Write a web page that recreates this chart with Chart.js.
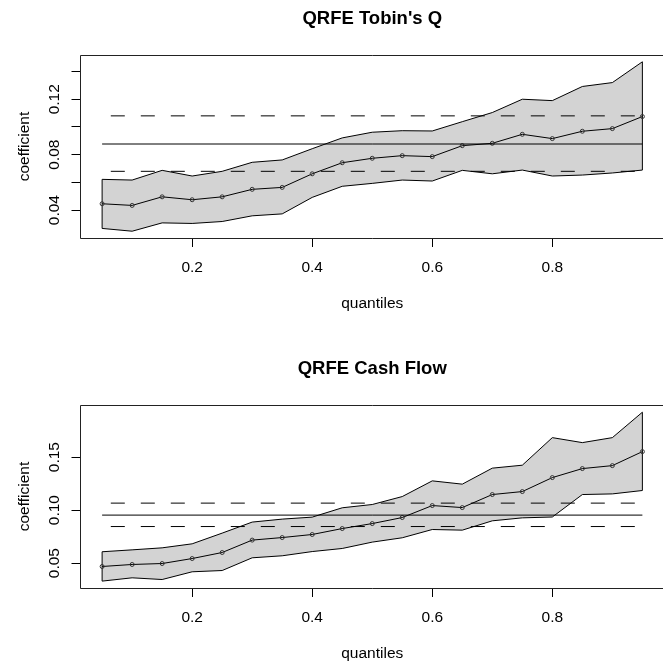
<!DOCTYPE html>
<html>
<head>
    <title>QRFE coefficients</title>
    <style>
        html, body {
            margin: 0;
            padding: 0;
            width: 663px;
            height: 663px;
            overflow: hidden;
            background: #fff;
        }
        .panel {
            position: absolute;
            left: 0;
            width: 669px;
            height: 350px;
        }
    </style>
    <script src="https://cdn.jsdelivr.net/npm/chart.js"></script>
</head>
<body>
    <div class="panel" style="top:0px;"><canvas id="tobinChart"></canvas></div>
    <div class="panel" style="top:350px;"><canvas id="cashChart"></canvas></div>

    <script>
        // quantiles used in both panels
        const quantiles = [0.05, 0.10, 0.15, 0.20, 0.25, 0.30, 0.35, 0.40, 0.45, 0.50,
                           0.55, 0.60, 0.65, 0.70, 0.75, 0.80, 0.85, 0.90, 0.95];
        const xTicks = [0.2, 0.4, 0.6, 0.8];

        // Tobin's Q
        const tobinMid   = [0.0446, 0.0434, 0.0496, 0.0475, 0.0496, 0.0550, 0.0564, 0.0662, 0.0742, 0.0774,
                            0.0793, 0.0786, 0.0865, 0.0882, 0.0947, 0.0916, 0.0969, 0.0988, 0.1075];
        const tobinUpper = [0.0622, 0.0617, 0.0687, 0.0646, 0.0680, 0.0745, 0.0762, 0.0843, 0.0921, 0.0962,
                            0.0973, 0.0971, 0.1038, 0.1104, 0.1200, 0.1190, 0.1292, 0.1320, 0.1470];
        const tobinLower = [0.0268, 0.0248, 0.0308, 0.0304, 0.0318, 0.0359, 0.0373, 0.0492, 0.0572, 0.0593,
                            0.0617, 0.0610, 0.0687, 0.0662, 0.0689, 0.0646, 0.0653, 0.0668, 0.0689];
        const tobinOls = [0.0680, 0.0877, 0.1080];   // lower CI, estimate, upper CI
        const tobinYTicks = [0.04, 0.06, 0.08, 0.10, 0.12, 0.14];
        const tobinYLabels = ['0.04', '0.08', '0.12'];

        // Cash Flow
        const cashMid   = [0.0468, 0.0487, 0.0496, 0.0543, 0.0600, 0.0717, 0.0741, 0.0770, 0.0826, 0.0873,
                           0.0930, 0.1043, 0.1024, 0.1147, 0.1175, 0.1307, 0.1392, 0.1420, 0.1552];
        const cashUpper = [0.0607, 0.0625, 0.0644, 0.0682, 0.0783, 0.0887, 0.0915, 0.0934, 0.1022, 0.1053,
                           0.1128, 0.1276, 0.1245, 0.1396, 0.1424, 0.1684, 0.1637, 0.1684, 0.1924];
        const cashLower = [0.0330, 0.0361, 0.0345, 0.0418, 0.0430, 0.0550, 0.0569, 0.0609, 0.0638, 0.0698,
                           0.0739, 0.0817, 0.0811, 0.0899, 0.0927, 0.0935, 0.1147, 0.1153, 0.1185];
        const cashOls = [0.0845, 0.0953, 0.1066];
        const cashYTicks = [0.05, 0.10, 0.15];
        const cashYLabels = ['0.05', '0.10', '0.15'];

        const FONT = '"Liberation Sans", Arial, Helvetica, sans-serif';
        Chart.defaults.font.family = FONT;
        Chart.defaults.color = '#000';

        // R draws y tick labels rotated, Chart.js can't for vertical axes
        const rotatedYLabels = {
            id: 'rotatedYLabels',
            afterDraw(chart, args, opts) {
                const ctx = chart.ctx;
                const yScale = chart.scales.y;
                ctx.save();
                ctx.font = '15.5px ' + FONT;
                ctx.fillStyle = '#000';
                ctx.textAlign = 'center';
                ctx.textBaseline = 'middle';
                opts.labels.forEach(l => {
                    const py = yScale.getPixelForValue(parseFloat(l));
                    ctx.save();
                    ctx.translate(opts.x, py);
                    ctx.rotate(-Math.PI / 2);
                    ctx.fillText(l, 0, 0);
                    ctx.restore();
                });
                ctx.restore();
            }
        };

        // box around plot region (right side runs off the picture)
        const plotBox = {
            id: 'plotBox',
            afterDraw(chart) {
                const ca = chart.chartArea;
                const ctx = chart.ctx;
                ctx.save();
                ctx.strokeStyle = '#222';
                ctx.lineWidth = 1;
                ctx.beginPath();
                ctx.moveTo(ca.right, Math.round(ca.top) + 0.5);
                ctx.lineTo(Math.floor(ca.left) + 0.5, Math.round(ca.top) + 0.5);
                ctx.lineTo(Math.floor(ca.left) + 0.5, Math.round(ca.bottom) + 0.5);
                ctx.lineTo(ca.right, Math.round(ca.bottom) + 0.5);
                ctx.stroke();
                ctx.restore();
            }
        };

        function pts(values) {
            return quantiles.map((q, i) => ({ x: q, y: values[i] }));
        }

        function makePanel(canvasId, title, mid, upper, lower, ols, yMin, yMax, yTicks, yLabels) {
            const q0 = quantiles[0];
            const qN = quantiles[quantiles.length - 1];
            const n = quantiles.length - 1;
            const flat = v => [{ x: q0, y: v }, { x: qN, y: v }];
            const plain = { borderColor: '#000', borderWidth: 1, pointRadius: 0, fill: false };

            new Chart(document.getElementById(canvasId), {
                type: 'line',
                data: {
                    datasets: [
                        Object.assign({ label: 'OLS', data: flat(ols[1]) }, plain),
                        Object.assign({ label: 'OLS upper', data: flat(ols[2]), borderDash: [14, 16], borderDashOffset: 21.3 }, plain),
                        Object.assign({ label: 'OLS lower', data: flat(ols[0]), borderDash: [14, 16], borderDashOffset: 21.3 }, plain),
                        {
                            label: 'QR', data: pts(mid),
                            borderColor: '#000', borderWidth: 1, fill: false,
                            pointRadius: 2, pointBorderWidth: 1,
                            pointBorderColor: '#333', pointBackgroundColor: 'rgba(0,0,0,0)'
                        },
                        {
                            label: 'upper', data: pts(upper),
                            borderColor: '#000', borderWidth: 1, pointRadius: 0,
                            fill: '+1', backgroundColor: '#d3d3d3'
                        },
                        Object.assign({ label: 'lower', data: pts(lower) }, plain),
                        Object.assign({ label: 'left', data: [{ x: q0, y: lower[0] }, { x: q0, y: upper[0] }] }, plain),
                        Object.assign({ label: 'right', data: [{ x: qN, y: lower[n] }, { x: qN, y: upper[n] }] }, plain)
                    ]
                },
                options: {
                    responsive: true,
                    maintainAspectRatio: false,
                    animation: false,
                    layout: { padding: 0 },
                    scales: {
                        x: {
                            type: 'linear',
                            min: 0.014,
                            max: 0.986,
                            afterBuildTicks: s => { s.ticks = xTicks.map(v => ({ value: v })); },
                            afterFit: s => { s.height = 112; },
                            grid: { drawOnChartArea: false, color: '#000', tickLength: 9 },
                            border: { display: false },
                            ticks: {
                                padding: 11,
                                font: { size: 15.5 },
                                maxRotation: 0,
                                callback: v => v.toFixed(1)
                            },
                            title: {
                                display: true,
                                text: 'quantiles',
                                font: { size: 15.5 },
                                padding: { top: 0, bottom: 36.7 }
                            }
                        },
                        y: {
                            min: yMin,
                            max: yMax,
                            afterBuildTicks: s => { s.ticks = yTicks.map(v => ({ value: v })); },
                            afterFit: s => { s.width = 80.5; },
                            grid: { drawOnChartArea: false, color: '#000', tickLength: 9 },
                            border: { display: false },
                            ticks: { display: false },
                            title: {
                                display: true,
                                text: 'coefficient',
                                font: { size: 15.5 },
                                padding: { top: 15.7, bottom: 0 }
                            }
                        }
                    },
                    plugins: {
                        legend: { display: false },
                        tooltip: { enabled: false },
                        filler: { drawTime: 'beforeDatasetsDraw' },
                        title: {
                            display: true,
                            text: title,
                            fullSize: false,
                            color: '#000',
                            font: { size: 18.5, weight: 'bold' },
                            padding: { top: 7.4, bottom: 25.4 }
                        },
                        rotatedYLabels: { labels: yLabels, x: 54.5 }
                    }
                },
                plugins: [rotatedYLabels, plotBox]
            });
        }

        document.addEventListener('DOMContentLoaded', function() {
            makePanel('tobinChart', "QRFE Tobin's Q", tobinMid, tobinUpper, tobinLower, tobinOls,
                      0.0199, 0.1519, tobinYTicks, tobinYLabels);
            makePanel('cashChart', 'QRFE Cash Flow', cashMid, cashUpper, cashLower, cashOls,
                      0.0265, 0.1992, cashYTicks, cashYLabels);
        });
    </script>
</body>
</html>
